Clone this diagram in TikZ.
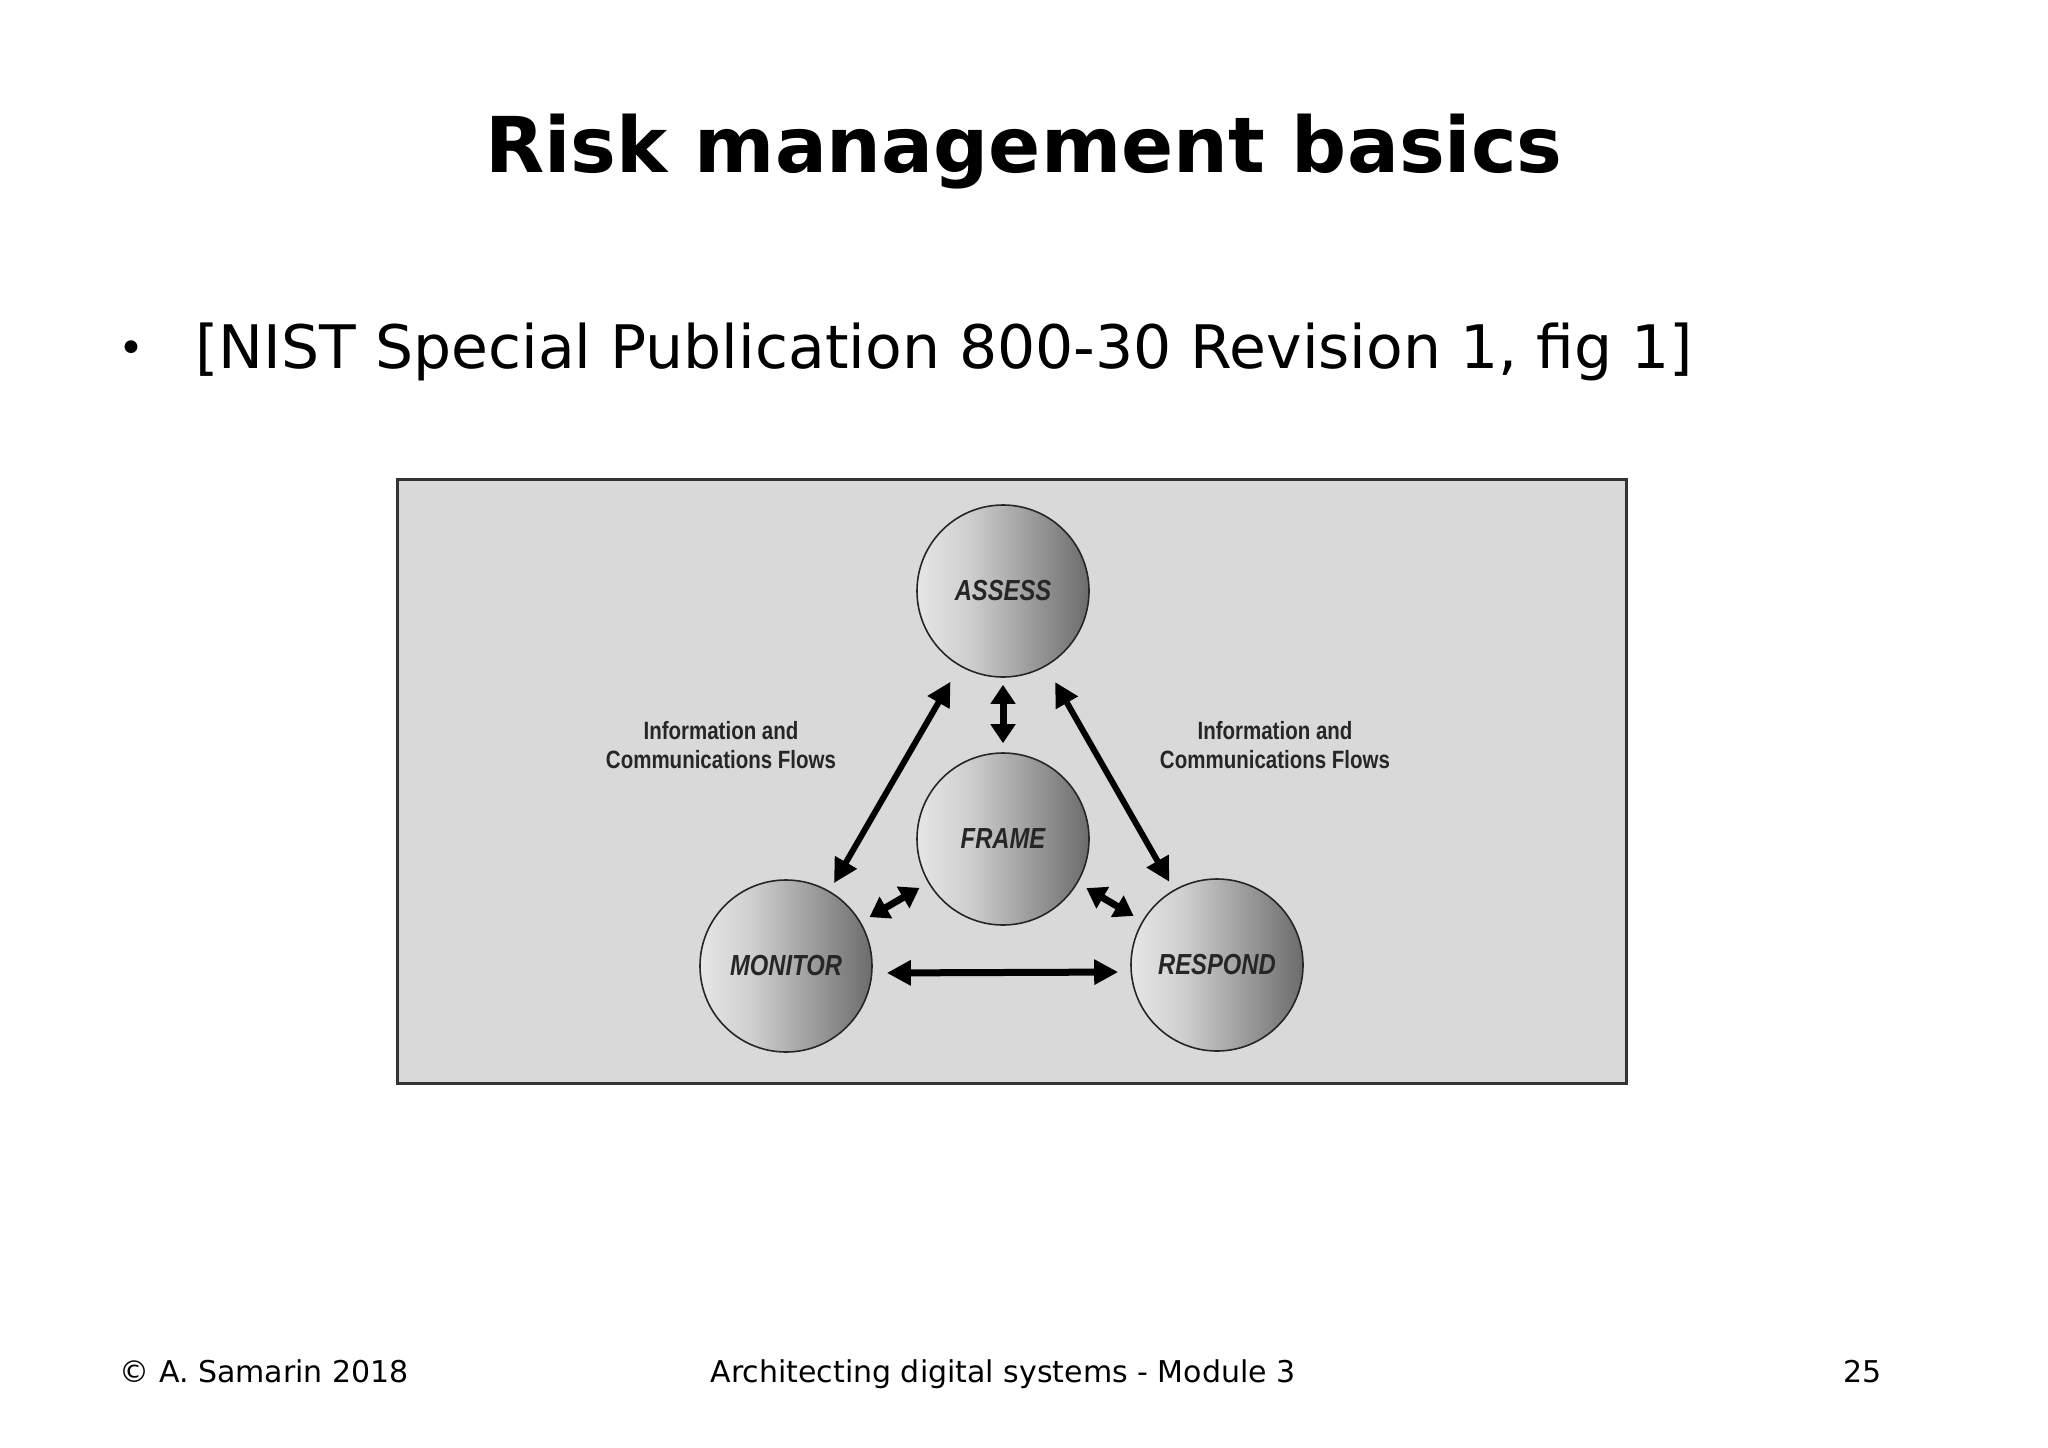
\documentclass[tikz,border=0pt]{standalone}
\usepackage{fontspec}
\setmainfont{DejaVu Sans}
\newfontfamily\figfont{Liberation Sans}[FakeStretch=0.82]
\usetikzlibrary{arrows.meta}
\definecolor{boxgray}{HTML}{D9D9DA}
\definecolor{ballL}{HTML}{E6E6E6}
\definecolor{ballM}{HTML}{CFCFCF}
\definecolor{ballR}{HTML}{6C6C6C}
\pgfdeclarehorizontalshading{ballshade}{100bp}{color(0bp)=(ballL); color(25bp)=(ballL); color(40bp)=(ballM); color(75bp)=(ballR); color(100bp)=(ballR)}
\begin{document}
\begin{tikzpicture}[x=1pt, y=-1pt,
  phase/.style={circle, draw=black!85, line width=1.6pt, minimum size=172pt, shading=ballshade, text=black!85, font=\figfont\bfseries\itshape\fontsize{29}{32}\selectfont},
  flowtext/.style={align=center, text=black!85, font=\figfont\bfseries\fontsize{25}{29}\selectfont},
  flow/.style={{Triangle[length=24pt,width=24pt]}-{Triangle[length=24pt,width=24pt]}, line width=6pt},
  shortflow/.style={{Triangle[length=19pt,width=24pt]}-{Triangle[length=19pt,width=24pt]}, line width=7pt},
  footer/.style={anchor=base, font=\fontsize{30}{34}\selectfont}]
  \useasboundingbox (0,0) rectangle (2048,1448);
  \fill[white] (0,0) rectangle (2048,1448);
  % Header
  \node (title) at (1024,152) {\fontsize{77}{88}\selectfont\bfseries Risk management basics};
  \node (dot) at (131,352) {\fontsize{44}{52}\selectfont\textbullet};
  \node (ref) [anchor=west] at (192,352) {\fontsize{60}{70}\selectfont [NIST Special Publication 800-30 Revision 1, fig 1]};
  % Figure frame
  \draw[fill=boxgray, draw=black!80, line width=3pt] (397,479) rectangle (1626,1083);
  % Nodes
  \node (ASSESS) [phase] at (1003,591) {ASSESS};
  \node (FRAME) [phase] at (1003,839) {FRAME};
  \node (MONITOR) [phase] at (786,966) {MONITOR};
  \node (RESPOND) [phase] at (1217,965) {RESPOND};
  \node (flowL) [flowtext] at (721,745) {Information and\\Communications Flows};
  \node (flowR) [flowtext] at (1275,745) {Information and\\Communications Flows};
  % Arrows
  \draw[flow, shorten <=18pt, shorten >=9pt] (ASSESS) -- (MONITOR);
  \draw[flow, shorten <=18pt, shorten >=9pt] (ASSESS) -- (RESPOND);
  \draw[shortflow, shorten <=7pt, shorten >=9pt] (ASSESS) -- (FRAME);
  \draw[shortflow, shorten <=10pt, shorten >=10pt] (MONITOR) -- (FRAME);
  \draw[shortflow, shorten <=10pt, shorten >=10pt] (FRAME) -- (RESPOND);
  \draw[flow, line width=7pt, shorten <=14pt, shorten >=12pt] ([yshift=-7pt]MONITOR.east) -- ([yshift=-7pt]RESPOND.west);
  % Footer
  \node (copy) [footer, anchor=base west] at (116,1382) {© A. Samarin 2018};
  \node (course) [footer] at (1003,1382) {Architecting digital systems - Module 3};
  \node (page) [footer, anchor=base west] at (1840,1382) {25};
\end{tikzpicture}
\end{document}
